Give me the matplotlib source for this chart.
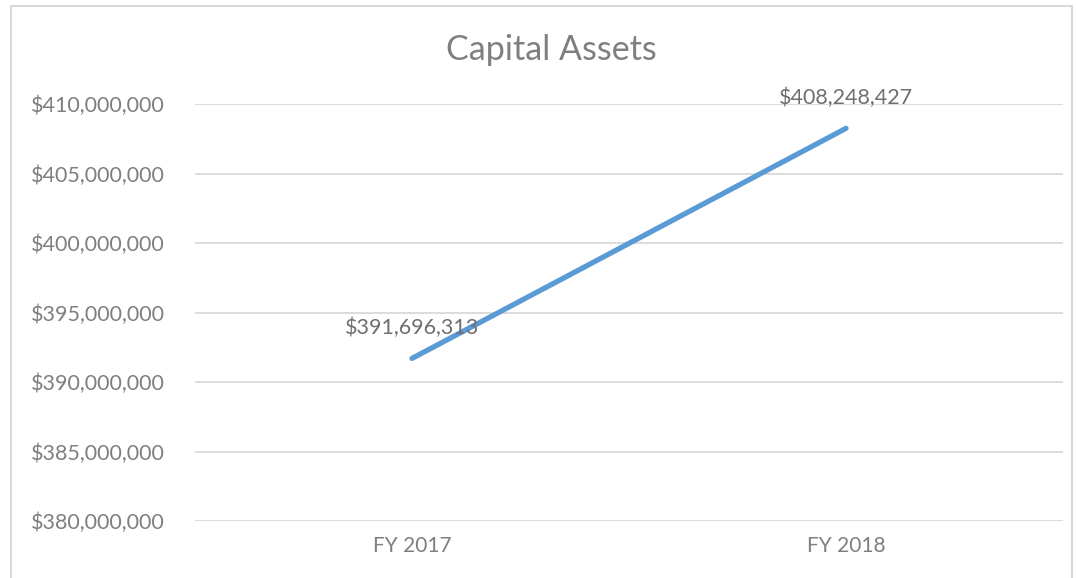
import matplotlib
matplotlib.use("Agg")
import matplotlib.pyplot as plt
from matplotlib.lines import Line2D
from matplotlib.ticker import FuncFormatter

categories = ["FY 2017", "FY 2018"]
values = [391696313, 408248427]
yticks = [380000000, 385000000, 390000000, 395000000, 400000000, 405000000, 410000000]

plt.rcParams['font.family'] = ['Lato', 'DejaVu Sans']
txt = '#7f7f7f'

fig = plt.figure(figsize=(10.76, 5.78), dpi=100)
ax = fig.add_axes([195/1076, 1 - 521/578, (1063-195)/1076, (521-104)/578])

x = list(range(len(categories)))
ax.plot(x, values, color='#5B9BD5', lw=3.8, solid_capstyle='round', zorder=3)
for xi, v in zip(x, values):
    ax.annotate(f"${v:,.0f}", (xi, v), xytext=(0, 22), textcoords='offset points',
                ha='center', va='center', fontsize=15.5, color='#6f6f6f', zorder=4)

ax.set_xlim(-0.5, 1.5)
ax.set_ylim(380000000, 410000000)
ax.set_yticks(yticks)
ax.yaxis.set_major_formatter(FuncFormatter(lambda v, p: f"${v:,.0f}"))
ax.set_xticks(x)
ax.set_xticklabels(categories)
ax.tick_params(length=0, labelsize=15.5, labelcolor=txt)
ax.tick_params(axis='y', pad=21.5)
ax.tick_params(axis='x', labelsize=15, pad=11)
ax.grid(axis='y', color='#d9d9d9', lw=1.3)
ax.set_axisbelow(True)
for s in ax.spines.values():
    s.set_visible(False)

fig.text(551/1076, 1 - 50/578, "Capital Assets", ha='center', va='center',
         fontsize=24.5, color='#7f7f7f')

bc = '#d9d9d9'
fig.add_artist(Line2D([11/1076, 11/1076], [0, 1 - 6/578], color=bc, lw=1.5, transform=fig.transFigure))
fig.add_artist(Line2D([11/1076, 1072/1076], [1 - 6/578, 1 - 6/578], color=bc, lw=1.5, transform=fig.transFigure))
fig.add_artist(Line2D([1072/1076, 1072/1076], [0, 1 - 6/578], color=bc, lw=1.5, transform=fig.transFigure))

fig.savefig("out.png", dpi=100)
